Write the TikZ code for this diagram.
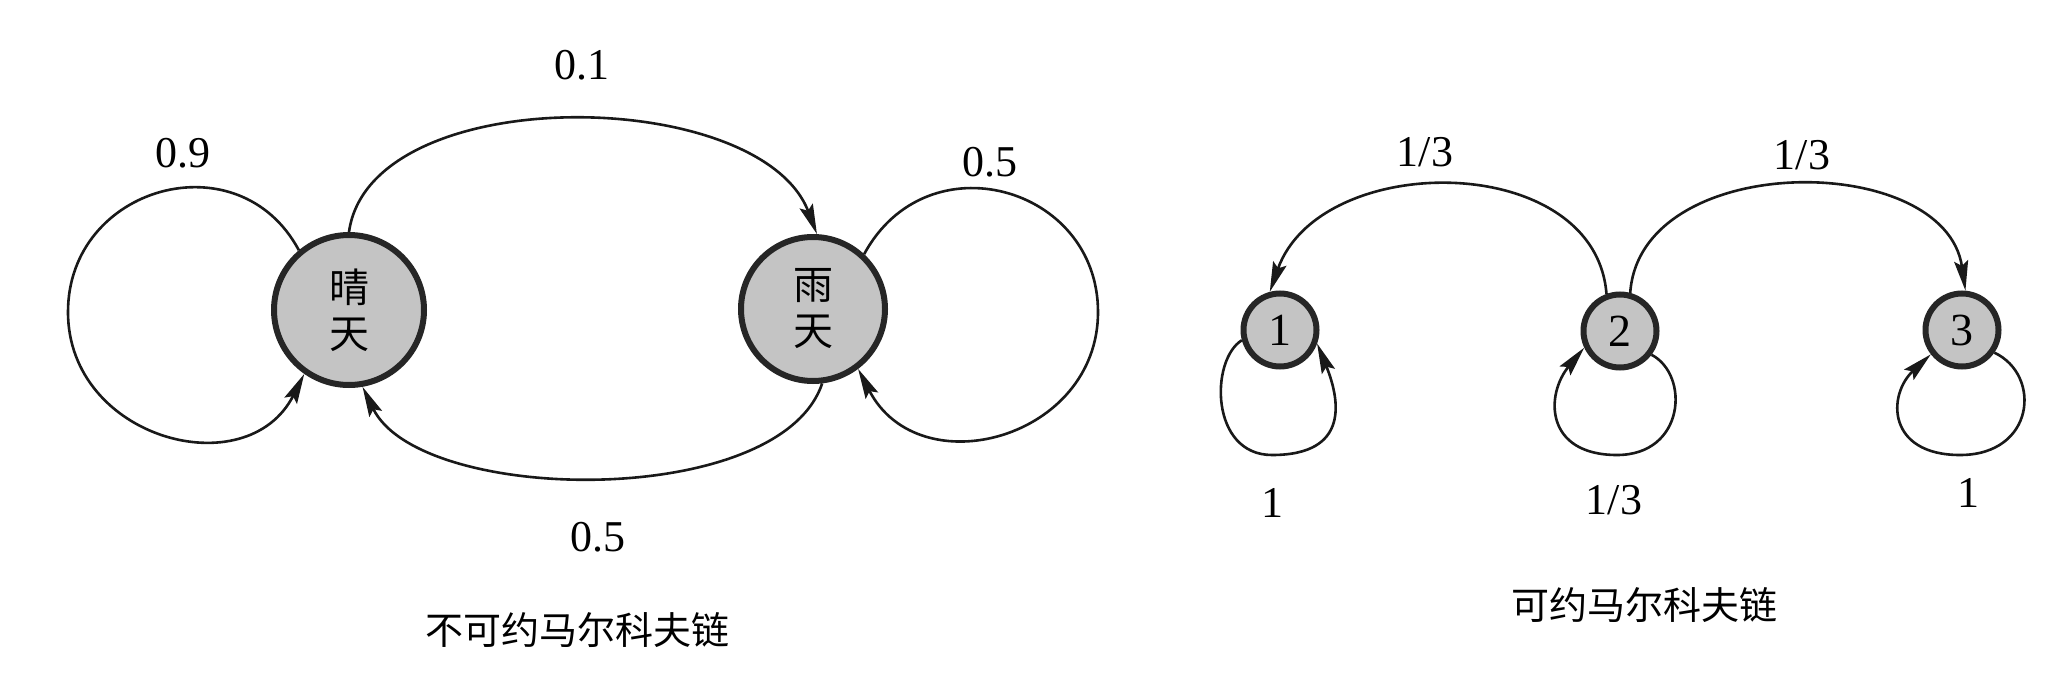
\documentclass[tikz,border=0pt]{standalone}
\usepackage{fontspec}
\setmainfont{Liberation Serif}
\newfontfamily\cjk{Noto Sans CJK SC}
\usetikzlibrary{arrows.meta}
\begin{document}
\begin{tikzpicture}[x=0.5pt,y=-0.5pt,
  stnode/.style={circle, draw=black!85, line width=3pt, fill=black!23, inner sep=0pt},
  bigstate/.style={stnode, font=\cjk\fontsize{20}{23}\selectfont, align=center},
  smallstate/.style={stnode, minimum size=36.5pt, font=\fontsize{23}{24}\selectfont},
  conn/.style={line width=1.3pt, draw=black!90, -{Stealth[length=15pt,width=7pt,inset=2.5pt]}},
  lbl/.style={font=\fontsize{22}{24}\selectfont, inner sep=0pt},
  captxt/.style={font=\cjk\fontsize{19}{22}\selectfont, inner sep=0pt}]
\useasboundingbox[fill=white] (0,0) rectangle (2058,685);

% left chain
\node[bigstate, minimum size=75pt] (sun) at (349,310) {晴\\天};
\node[bigstate, minimum size=72pt] (rain) at (813,309) {雨\\天};

\draw[conn] (sun.130) .. controls (239,138) and (68,186) .. (68,312)
            .. controls (68,439) and (247,487) .. (sun.235);
\draw[conn] (sun.90) .. controls (370,80) and (760,85) .. (rain.87);
\draw[conn] (rain.47) .. controls (927,138) and (1098,186) .. (1098,312)
            .. controls (1098,439) and (919,487) .. (rain.-53);
\draw[conn] (rain.-83) .. controls (780,510) and (420,505) .. (sun.-80);

\node[lbl] (l09) at (183,153) {0.9};
\node[lbl] (l01) at (582,65) {0.1};
\node[lbl] (l05a) at (990,162) {0.5};
\node[lbl] (l05b) at (598,537) {0.5};
\node[captxt] (cap1) at (577,630) {不可约马尔科夫链};

% right chain
\node[smallstate] (n1) at (1280,330) {1};
\node[smallstate] (n2) at (1620,331) {2};
\node[smallstate] (n3) at (1962,330) {3};

\draw[conn] (n2.110) .. controls (1595,150) and (1320,150) .. (n1.105);
\draw[conn] (n2.75) .. controls (1640,150) and (1945,150) .. (n3.85);
\draw[conn] (n1.195) .. controls (1210,360) and (1210,455) .. (1272,455)
            .. controls (1350,455) and (1340,400) .. (n1.-20);
\draw[conn] (n2.-37) .. controls (1690,375) and (1685,455) .. (1617,455)
            .. controls (1545,455) and (1545,395) .. (n2.205);
\draw[conn] (n3.-35) .. controls (2042,375) and (2035,455) .. (1960,455)
            .. controls (1887,455) and (1887,395) .. (n3.-142);

\node[lbl] (r13a) at (1425,152) {1/3};
\node[lbl] (r13b) at (1802,155) {1/3};
\node[lbl] (r1a) at (1272,503) {1};
\node[lbl] (r13c) at (1614,500) {1/3};
\node[lbl] (r1b) at (1968,493) {1};
\node[captxt] (cap2) at (1644,605) {可约马尔科夫链};
\end{tikzpicture}
\end{document}
